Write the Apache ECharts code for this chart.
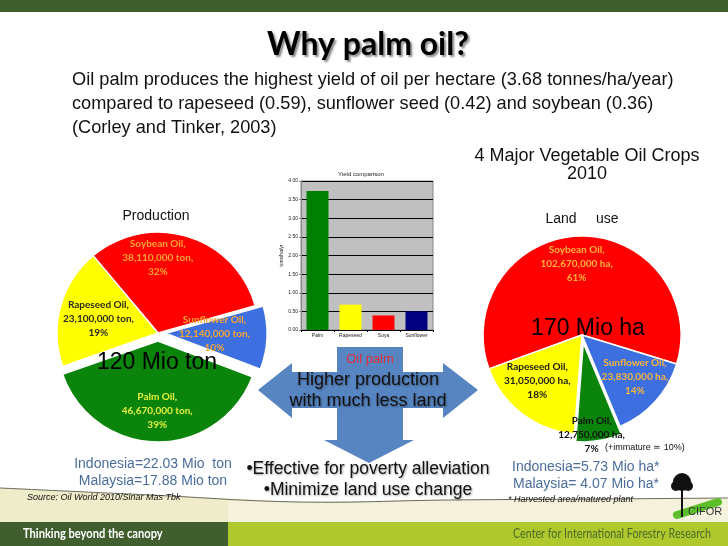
<!DOCTYPE html>
<html>
<head>
<meta charset="utf-8">
<script src="https://cdn.jsdelivr.net/npm/echarts@6/dist/echarts.min.js"></script>
<style>html,body{margin:0;padding:0;background:#fff}#c{width:728px;height:546px}</style>
</head>
<body>
<div id="c"></div>
<script>
// ---- data ----
var yieldCategories = ['Palm', 'Rapeseed', 'Soya', 'Sunflower'];
var yieldValues = [3.73, 0.68, 0.39, 0.50];
var yieldColors = ['#008000', '#ffff00', '#ff0000', '#000080'];

var prodNames = ['Soybean Oil', 'Sunflower Oil', 'Palm Oil', 'Rapeseed Oil'];
var prodValues = [38110000, 12140000, 46670000, 23100000];
var prodPercents = [32, 10, 39, 19];

var landNames = ['Soybean Oil', 'Sunflower Oil', 'Palm Oil', 'Rapeseed Oil'];
var landValues = [102670000, 23830000, 12750000, 31050000];
var landPercents = [61, 14, 7, 18];

var sliceColors = ['#ff0000', '#3d6fe0', '#0a840a', '#ffff00'];
var prodLabelColors = ['#f9a532', '#f9a532', '#e4f03c', '#2a2a2a'];
var landLabelColors = ['#f9b43a', '#f9b43a', '#111111', '#1a1a1a'];

var fmt = function (v) { return v.toLocaleString('en-US'); };

var prodShift = [[-16, -24], [-5, -2], [0, 16], [-8, 0]];
var landShift = [[-4, -19], [14, 7], [0, 40], [-13, 4]];

var chart = echarts.init(document.getElementById('c'), null, {renderer: 'canvas'});

var arrowPts = [[258,390],[292,363],[292,372],[337,372],[337,347],[403,347],[403,372],[443,372],[443,363],[478,390],[443,418],[443,408],[403,408],[403,440],[414,440],[369,463],[324,440],[337,440],[337,408],[292,408],[292,418]];

var shadow = {textShadowColor: 'rgba(0,0,0,0.35)', textShadowBlur: 2, textShadowOffsetX: 1, textShadowOffsetY: 1};
function txt(x, y, s, style, extra) {
  var st = Object.assign({x: 0, y: 0, text: s, fill: '#111', font: '16px "Liberation Sans", Arial', textAlign: 'left', textVerticalAlign: 'middle'}, style || {});
  return Object.assign({type: 'text', z: 100, x: x, y: y, style: st}, extra || {});
}
var F = '"Liberation Sans", Arial';

var option = {
  animation: false,
  backgroundColor: '#ffffff',
  graphic: [
    {type: 'rect', shape: {x: 0, y: 0, width: 728, height: 12}, style: {fill: '#3f5f2f'}, z: 1},
    {type: 'polygon', shape: {points: [[0,488],[150,495],[300,502],[450,500],[600,499],[728,498],[728,522],[0,522]]}, style: {fill: '#efecca'}, z: 1},
    {type: 'polygon', shape: {points: [[228,501],[300,502],[450,500],[728,498],[728,522],[228,522]]}, style: {fill: '#f4f2dc'}, z: 1},
    {type: 'polyline', shape: {points: [[0,488],[150,495],[300,502],[450,500],[600,499],[728,498]], smooth: 0.4}, style: {stroke: '#6a6a5a', lineWidth: 1, fill: null}, z: 2},
    {type: 'rect', shape: {x: 0, y: 522, width: 228, height: 24}, style: {fill: '#405e2e'}, z: 1},
    {type: 'rect', shape: {x: 228, y: 522, width: 500, height: 24}, style: {fill: '#afc92c'}, z: 1},
    // CIFOR logo
    {type: 'line', shape: {x1: 677, y1: 515, x2: 718, y2: 502}, style: {stroke: '#5cbf2a', lineWidth: 8, lineCap: 'round'}, z: 3},
    {type: 'line', shape: {x1: 682, y1: 487, x2: 682, y2: 517}, style: {stroke: '#111', lineWidth: 2}, z: 4},
    {type: 'circle', shape: {cx: 682, cy: 482, r: 9}, style: {fill: '#111'}, z: 4},
    {type: 'circle', shape: {cx: 676, cy: 486, r: 5}, style: {fill: '#111'}, z: 4},
    {type: 'circle', shape: {cx: 688, cy: 486, r: 5}, style: {fill: '#111'}, z: 4},
    txt(688, 512, 'CIFOR', {font: '11px ' + F, fill: '#333'}),
    // arrow
    {type: 'polygon', shape: {points: arrowPts}, style: {fill: '#5785c1'}, z: 50},
    // texts
    txt(368, 45, 'Why palm oil?', {font: 'bold 32px Lato, "Open Sans", sans-serif', textAlign: 'center', fill: '#000', textShadowColor: 'rgba(0,0,0,0.45)', textShadowBlur: 2, textShadowOffsetX: 2, textShadowOffsetY: 2}),
    txt(72, 80, 'Oil palm produces the highest yield of oil per hectare (3.68 tonnes/ha/year)', {font: '18.2px ' + F}),
    txt(72, 104, 'compared to rapeseed (0.59), sunflower seed (0.42) and soybean (0.36)', {font: '18.2px ' + F}),
    txt(72, 128, '(Corley and Tinker, 2003)', {font: '18.2px ' + F}),
    txt(587, 156, '4 Major Vegetable Oil Crops', {font: '18px ' + F, textAlign: 'center'}),
    txt(587, 174, '2010', {font: '18px ' + F, textAlign: 'center'}),
    txt(156, 216, 'Production', {font: '14px ' + F, textAlign: 'center'}),
    txt(582, 219, 'Land     use', {font: '14px ' + F, textAlign: 'center'}),
    txt(157, 363, '120 Mio ton', {font: '23px ' + F, textAlign: 'center', fill: '#000'}),
    txt(588, 329, '170 Mio ha', {font: '23px ' + F, textAlign: 'center', fill: '#000'}),
    txt(370, 359, 'Oil palm', {font: '13px ' + F, textAlign: 'center', fill: '#e0303a'}),
    txt(368, 380, 'Higher production', Object.assign({font: '18px ' + F, textAlign: 'center', fill: '#111'}, shadow)),
    txt(368, 401, 'with much less land', Object.assign({font: '18px ' + F, textAlign: 'center', fill: '#111'}, shadow)),
    txt(368, 469, '\u2022Effective for poverty alleviation', Object.assign({font: '17.5px ' + F, textAlign: 'center', fill: '#111'}, shadow)),
    txt(368, 490, '\u2022Minimize land use change', Object.assign({font: '17.5px ' + F, textAlign: 'center', fill: '#111'}, shadow)),
    txt(153, 464, 'Indonesia=22.03 Mio  ton', {font: '14px ' + F, textAlign: 'center', fill: '#4a6d9c'}),
    txt(153, 481, 'Malaysia=17.88 Mio ton', {font: '14px ' + F, textAlign: 'center', fill: '#4a6d9c'}),
    txt(27, 497, 'Source: Oil World 2010/Sinar Mas Tbk', {font: 'italic 9px ' + F, fill: '#111'}),
    txt(512, 467, 'Indonesia=5.73 Mio ha*', {font: '14px ' + F, fill: '#4a6d9c'}),
    txt(513, 484, 'Malaysia= 4.07 Mio ha*', {font: '14px ' + F, fill: '#4a6d9c'}),
    txt(508, 499, '* Harvested area/matured plant', {font: 'italic 9px ' + F, fill: '#111'}),
    txt(605, 448, '(+immature \u2243 10%)', {font: '9px ' + F, fill: '#111'}),
    txt(23, 534, 'Thinking beyond the canopy', {font: 'bold 13px Lato, sans-serif', fill: '#ffffff'}, {scaleX: 0.855}),
    txt(513, 534, 'Center for International Forestry Research', {font: '13px Lato, sans-serif', fill: '#4d6a2c'}, {scaleX: 0.825})
  ],
  title: {
    text: 'Yield comparison', left: 356, top: 166, textAlign: 'center',
    textStyle: {fontSize: 6, fontWeight: 'normal', color: '#222', fontFamily: F}
  },
  grid: {left: 301, top: 181, width: 132, height: 149, show: true, backgroundColor: '#c0c0c0', borderColor: '#888', borderWidth: 1},
  xAxis: {
    type: 'category', data: yieldCategories,
    axisLine: {lineStyle: {color: '#000', width: 1}},
    axisTick: {show: true, lineStyle: {color: '#000'}, length: 2},
    axisLabel: {fontSize: 5, color: '#222', margin: 3, fontFamily: F}
  },
  yAxis: {
    type: 'value', min: 0, max: 4, interval: 0.5,
    name: 'tons/ha/yr', nameLocation: 'middle', nameGap: 17, nameRotate: 90,
    nameTextStyle: {fontSize: 5, color: '#222', fontFamily: F},
    axisLine: {show: true, lineStyle: {color: '#888'}},
    axisTick: {show: true, length: 2, lineStyle: {color: '#888'}},
    axisLabel: {fontSize: 5, color: '#222', margin: 3, formatter: function (v) { return v.toFixed(2); }, fontFamily: F},
    splitLine: {lineStyle: {color: '#000', width: 1}}
  },
  series: [
    {
      type: 'bar', barWidth: 22, z: 3,
      data: yieldValues.map(function (v, i) { return {value: v, itemStyle: {color: yieldColors[i]}}; })
    },
    {
      type: 'pie', center: [158, 333], radius: [0, 101], startAngle: 130, clockwise: true,
      avoidLabelOverlap: false, selectedMode: 'multiple', selectedOffset: 8,
      itemStyle: {borderColor: '#fff', borderWidth: 1.5},
      label: {position: 'inside', fontSize: 10, fontWeight: 'bold', lineHeight: 14, fontFamily: 'Lato, "Open Sans", sans-serif'},
      labelLayout: function (p) { var s = prodShift[p.dataIndex]; return {dx: s[0], dy: s[1]}; },
      emphasis: {disabled: true},
      data: prodNames.map(function (n, i) {
        return {
          name: n, value: prodValues[i], selected: (i === 1 || i === 2),
          itemStyle: {color: sliceColors[i]},
          label: {color: prodLabelColors[i], formatter: n + ',\n' + fmt(prodValues[i]) + ' ton,\n' + prodPercents[i] + '%'}
        };
      })
    },
    {
      type: 'pie', center: [582, 335], radius: [0, 99], startAngle: 200, clockwise: true,
      avoidLabelOverlap: false, selectedMode: 'multiple', selectedOffset: 8,
      itemStyle: {borderColor: '#fff', borderWidth: 1.5},
      label: {position: 'inside', fontSize: 10, fontWeight: 'bold', lineHeight: 14, fontFamily: 'Lato, "Open Sans", sans-serif'},
      labelLayout: function (p) { var s = landShift[p.dataIndex]; return {dx: s[0], dy: s[1]}; },
      emphasis: {disabled: true},
      data: landNames.map(function (n, i) {
        return {
          name: n, value: landValues[i], selected: (i === 2),
          itemStyle: {color: sliceColors[i]},
          label: {color: landLabelColors[i], formatter: n + ',\n' + fmt(landValues[i]) + ' ha,\n' + landPercents[i] + '%'}
        };
      })
    }
  ]
};
chart.setOption(option);
</script>
</body>
</html>
